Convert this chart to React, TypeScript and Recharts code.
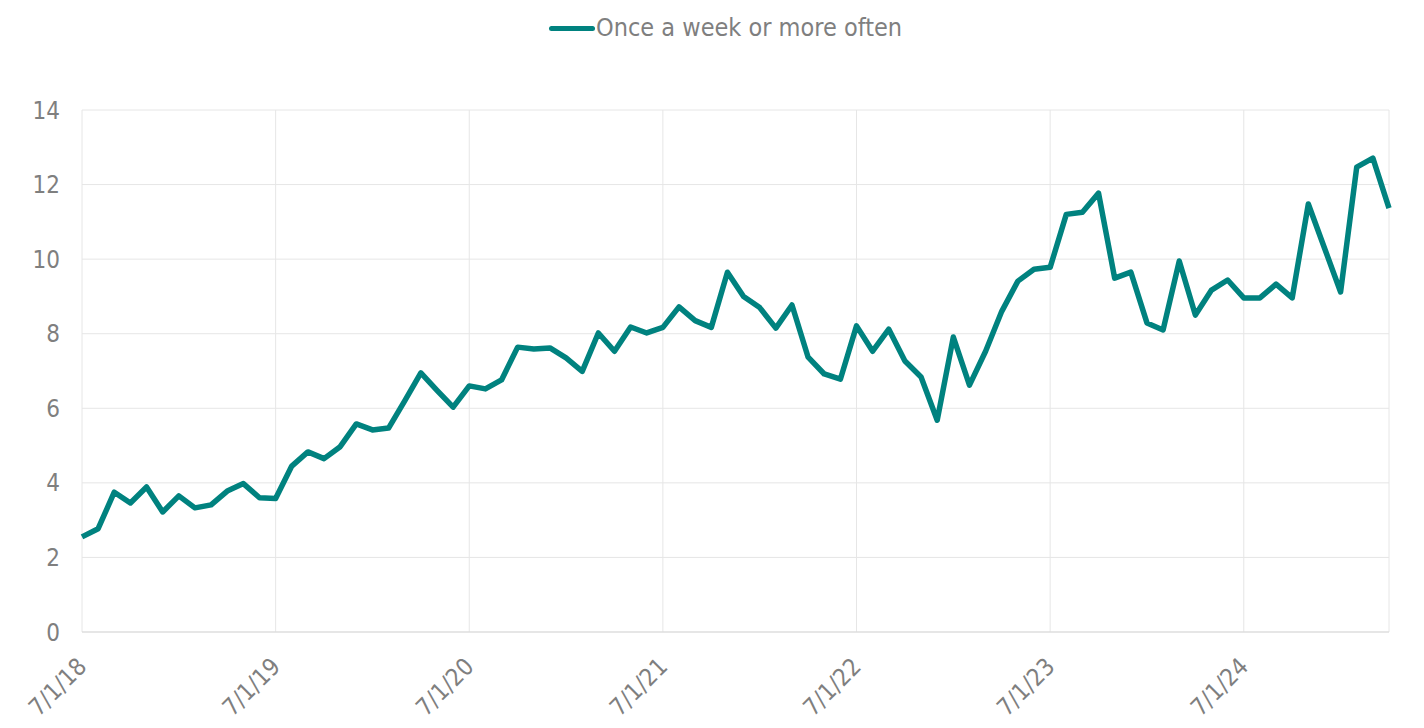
import React from "react";
import { LineChart, Line, XAxis, YAxis, CartesianGrid } from "recharts";

// monthly readings, July 2018 through April 2025
const seriesName = "Once a week or more often";
const values = [
  2.55, 2.77, 3.75, 3.46, 3.89, 3.22, 3.65, 3.33, 3.41, 3.78, 3.98, 3.6,
  3.58, 4.45, 4.83, 4.65, 4.97, 5.58, 5.42, 5.47, 6.2, 6.95, 6.48, 6.03,
  6.6, 6.52, 6.76, 7.64, 7.59, 7.62, 7.35, 6.99, 8.02, 7.53, 8.18, 8.02,
  8.17, 8.72, 8.35, 8.17, 9.65, 9.0, 8.7, 8.15, 8.77, 7.37, 6.92, 6.78,
  8.21, 7.53, 8.12, 7.27, 6.84, 5.68, 7.91, 6.62, 7.53, 8.6, 9.41, 9.73,
  9.78, 11.2, 11.26, 11.77, 9.49, 9.65, 8.29, 8.1, 9.95, 8.5, 9.17, 9.44,
  8.96, 8.96, 9.33, 8.96, 11.48, 10.3, 9.12, 12.47, 12.71, 11.37,
];
const tickLabels = ["7/1/18", "7/1/19", "7/1/20", "7/1/21", "7/1/22", "7/1/23", "7/1/24"];
const tickMonths = [0, 12, 24, 36, 48, 60, 72];
const yTicks = [0, 2, 4, 6, 8, 10, 12, 14];

const data = values.map((v, i) => ({ month: i, value: v }));

const TEAL = "#00827f";
const GREY = "#7f7f7f";
const FONT = "'DejaVu Sans Condensed', 'DejaVu Sans', Verdana, sans-serif";

function DateTick(props: any) {
  const { x, y, payload } = props;
  const idx = tickMonths.indexOf(payload.value);
  return (
    <g transform={`translate(${x + 6},${y + 28})`}>
      <text
        x={0}
        y={0}
        textAnchor="end"
        fill={GREY}
        fontSize={24}
        fontFamily={FONT}
        transform="rotate(-45)"
      >
        {tickLabels[idx]}
      </text>
    </g>
  );
}

export default function App() {
  return (
    <div style={{ position: "absolute", left: 0, top: 0, width: 1424, height: 728, background: "#fff" }}>
      {/* legend */}
      <div
        style={{
          position: "absolute",
          top: 13,
          left: 549,
          display: "flex",
          alignItems: "center",
          fontFamily: FONT,
          fontSize: 25,
          lineHeight: "30px",
          color: GREY,
          whiteSpace: "nowrap",
        }}
      >
        <span
          style={{
            display: "inline-block",
            width: 46,
            height: 5,
            borderRadius: 3,
            background: TEAL,
            marginRight: 1,
          }}
        />
        <span>{seriesName}</span>
      </div>

      <LineChart
        width={1424}
        height={728}
        data={data}
        margin={{ top: 110, right: 35, left: 0, bottom: 0 }}
      >
        <CartesianGrid stroke="#e6e6e6" strokeWidth={1} />
        <XAxis
          dataKey="month"
          type="number"
          domain={[0, values.length - 1]}
          ticks={tickMonths}
          tick={<DateTick />}
          tickLine={false}
          axisLine={{ stroke: "#d9d9d9" }}
          height={96}
          interval={0}
        />
        <YAxis
          domain={[0, 14]}
          ticks={yTicks}
          width={82}
          tickLine={false}
          axisLine={false}
          tickMargin={16}
          tick={{ fill: GREY, fontSize: 24, fontFamily: FONT }}
        />
        <Line
          type="linear"
          dataKey="value"
          name={seriesName}
          stroke={TEAL}
          strokeWidth={5.5}
          dot={false}
          strokeLinejoin="round"
          isAnimationActive={false}
        />
      </LineChart>
    </div>
  );
}
